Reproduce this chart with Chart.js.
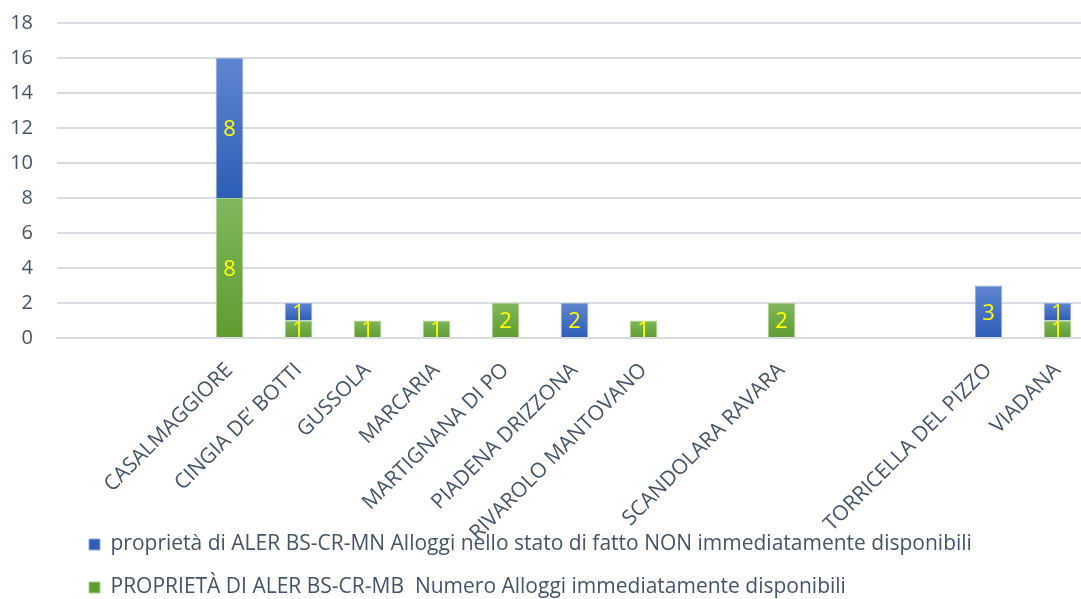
<!DOCTYPE html>
<html>
<head>
<meta charset="utf-8">
<script src="https://cdn.jsdelivr.net/npm/chart.js@4"></script>
<style>
  body { margin: 0; background: #fff; }
  #wrap { width: 1081px; height: 599px; overflow: hidden; }
  canvas { display: block; }
</style>
</head>
<body>
<div id="wrap"><canvas id="myChart" width="1100" height="599"></canvas></div>
<script>
var comuni = ["", "", "CASALMAGGIORE", "CINGIA DE\u2019 BOTTI", "GUSSOLA", "MARCARIA",
  "MARTIGNANA DI PO", "PIADENA DRIZZONA", "RIVAROLO MANTOVANO", "", "SCANDOLARA RAVARA",
  "", "", "TORRICELLA DEL PIZZO", "VIADANA"];
// verde: immediatamente disponibili
var disponibili = [null, null, 8, 1, 1, 1, 2, null, 1, null, 2, null, null, null, 1];
// blu: NON immediatamente disponibili
var nonDisponibili = [null, null, 8, 1, null, null, null, 2, null, null, null, null, null, 3, 1];
var yTicks = [0, 2, 4, 6, 8, 10, 12, 14, 16, 18];

var serieNomi = [
  "PROPRIET\u00C0 DI ALER BS-CR-MB  Numero Alloggi immediatamente disponibili",
  "propriet\u00E0 di ALER BS-CR-MN Alloggi nello stato di fatto NON immediatamente disponibili"
];

Chart.defaults.font.family = '"Open Sans", sans-serif';
Chart.defaults.font.size = 21;
Chart.defaults.color = "#44546a";

// gradient per ogni barra (chiaro in alto, scuro in basso)
function barFill(light, dark) {
  return function (c) {
    if (c.type !== "data" || !c.chart.scales.y) return dark;
    var v = c.raw;
    if (!v) return dark;
    var base = 0;
    for (var d = 0; d < c.datasetIndex; d++) {
      base += c.chart.data.datasets[d].data[c.dataIndex] || 0;
    }
    var y = c.chart.scales.y;
    var g = c.chart.ctx.createLinearGradient(0, y.getPixelForValue(base + v), 0, y.getPixelForValue(base));
    g.addColorStop(0, light);
    g.addColorStop(1, dark);
    return g;
  };
}

var valueLabels = {
  id: "valueLabels",
  afterDatasetsDraw: function (chart) {
    var ctx = chart.ctx;
    ctx.save();
    ctx.font = '22px "Open Sans"';
    ctx.fillStyle = "#ffff00";
    ctx.textAlign = "center";
    ctx.textBaseline = "middle";
    chart.data.datasets.forEach(function (ds, i) {
      chart.getDatasetMeta(i).data.forEach(function (bar, j) {
        var v = ds.data[j];
        if (!v) return;
        ctx.fillText(v, bar.x, (bar.y + bar.base) / 2 + 2);
      });
    });
    ctx.restore();
  }
};

// legenda allineata a sinistra, sotto le etichette (si sovrappone come nell'originale)
var legendPlace = {
  id: "legendPlace",
  afterLayout: function (chart) {
    var lg = chart.legend;
    lg.left = 67;
    lg.right = lg.left + 1000;
    lg.top = 512;
    lg.bottom = 640;
  }
};

new Chart("myChart", {
  type: "bar",
  data: {
    labels: comuni,
    datasets: [{
      label: serieNomi[0],
      data: disponibili,
      backgroundColor: barFill("#80b75c", "#5e9c30"),
      borderColor: "#a9d18e",
      borderWidth: 1
    }, {
      label: serieNomi[1],
      data: nonDisponibili,
      backgroundColor: barFill("#5f86d0", "#2e5db6"),
      borderColor: "#8faadc",
      borderWidth: 1
    }]
  },
  options: {
    responsive: false,
    animation: false,
    layout: { padding: { top: 23, left: 0, right: 8, bottom: 0 } },
    datasets: { bar: { categoryPercentage: 1, barPercentage: 0.4 } },
    scales: {
      x: {
        stacked: true,
        grid: { display: false },
        border: { color: "#d9dde3", width: 2 },
        ticks: { autoSkip: false, minRotation: 45, maxRotation: 45, padding: 12 },
        afterFit: function (s) { s.height = 260; }
      },
      y: {
        stacked: true,
        min: 0,
        max: 18,
        afterBuildTicks: function (s) { s.ticks = yTicks.map(function (v) { return { value: v }; }); },
        grid: { color: "#d9dde3", lineWidth: 2, drawTicks: false },
        border: { display: false },
        ticks: { padding: 24, font: { size: 20 } },
        afterFit: function (s) { s.width = 57; s.paddingTop = 0; s.paddingBottom = 0; }
      }
    },
    plugins: {
      legend: {
        position: "bottom",
        align: "start",
        reverse: true,
        maxHeight: 1,
        labels: { boxWidth: 11, boxHeight: 11, padding: 22 }
      },
      tooltip: { enabled: false }
    }
  },
  plugins: [valueLabels, legendPlace]
});
</script>
</body>
</html>
